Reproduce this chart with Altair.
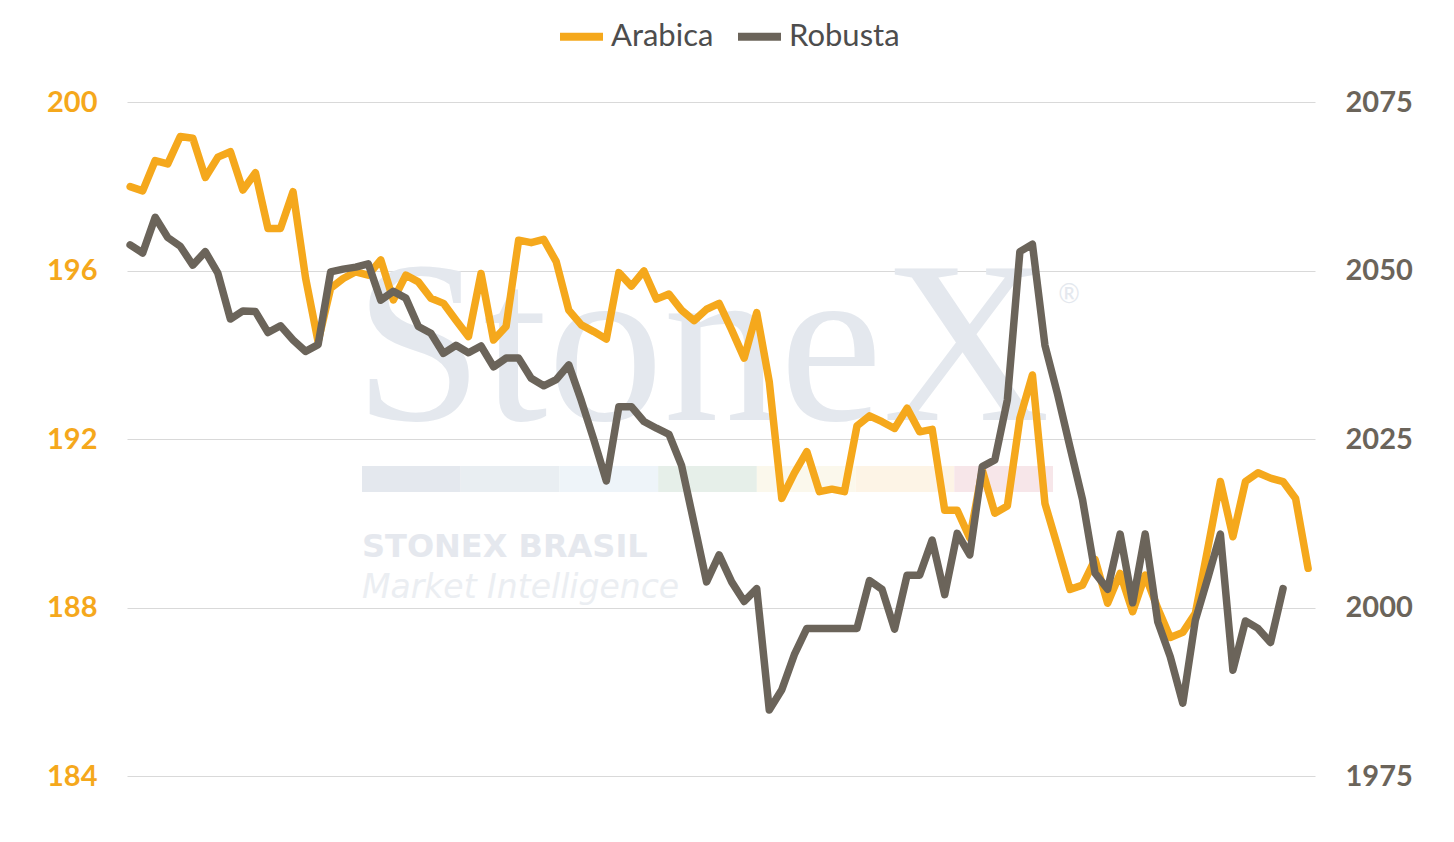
import altair as alt
import pandas as pd

# ---- data ----
arabica = [197.99, 197.89, 198.61, 198.53, 199.18, 199.14, 198.21, 198.69, 198.82, 197.91,
           198.32, 197.00, 197.00, 197.87, 195.82, 194.31, 195.58, 195.81, 195.97, 195.89,
           196.25, 195.30, 195.89, 195.73, 195.34, 195.22, 194.82, 194.43, 195.93, 194.35,
           194.67, 196.72, 196.66, 196.74, 196.21, 195.06, 194.71, 194.55, 194.37, 195.95,
           195.63, 195.99, 195.32, 195.44, 195.06, 194.81, 195.08, 195.22, 194.59, 193.92,
           195.00, 193.36, 190.59, 191.19, 191.70, 190.75, 190.81, 190.75, 192.31, 192.55,
           192.41, 192.25, 192.73, 192.17, 192.23, 190.31, 190.31, 189.65, 191.26, 190.24,
           190.41, 192.49, 193.52, 190.47, 189.46, 188.43, 188.53, 189.14, 188.10, 188.81,
           187.90, 188.77, 187.98, 187.29, 187.41, 187.86, 189.41, 190.99, 189.68, 190.99,
           191.20, 191.07, 190.99, 190.59, 188.93]

robusta = [2053.8, 2052.6, 2057.9, 2054.9, 2053.6, 2050.8, 2052.8, 2049.6, 2042.8, 2044.0,
           2043.9, 2040.8, 2041.8, 2039.7, 2038.0, 2039.0, 2049.8, 2050.2, 2050.5, 2051.0,
           2045.6, 2046.9, 2045.9, 2041.7, 2040.7, 2037.7, 2038.9, 2037.8, 2038.8, 2035.7,
           2037.0, 2037.0, 2034.0, 2032.9, 2033.8, 2036.0, 2030.7, 2024.9, 2018.8, 2029.8,
           2029.8, 2027.6, 2026.6, 2025.7, 2021.1, 2012.5, 2003.8, 2007.8, 2003.8, 2000.9,
           2002.8, 1984.8, 1987.8, 1993.0, 1996.9, 1996.9, 1996.9, 1996.9, 1996.9, 2004.0,
           2002.7, 1996.8, 2004.8, 2004.8, 2010.0, 2001.9, 2011.0, 2007.8, 2020.9, 2021.9,
           2030.8, 2052.8, 2053.9, 2038.9, 2031.7, 2023.8, 2016.0, 2005.1, 2002.7, 2010.9,
           2000.7, 2010.9, 1997.9, 1992.7, 1985.8, 1998.1, 2004.4, 2010.9, 1990.7, 1998.0,
           1996.9, 1994.8, 2002.8]

series_names = ["Arabica", "Robusta"]
series_colors = ["#F5A81C", "#6B645A"]
left_ticks = [184, 188, 192, 196, 200]
right_ticks = [1975, 2000, 2025, 2050, 2075]

rows = [{"idx": i, "series": "Arabica", "value": v} for i, v in enumerate(arabica)]
rows += [{"idx": i, "series": "Robusta", "value": v} for i, v in enumerate(robusta)]
df = pd.DataFrame(rows)

W, H = 1188, 674

x_enc = alt.X("idx:Q", scale=alt.Scale(domain=[-0.25, 94.55], nice=False, zero=False), axis=None)
color_enc = alt.Color(
    "series:N",
    scale=alt.Scale(domain=series_names, range=series_colors),
    legend=alt.Legend(
        title=None, orient="none", direction="horizontal",
        legendX=429, legendY=-91,
        symbolType="stroke", symbolStrokeWidth=8, symbolSize=1849,
        labelFontSize=31, labelFont="Lato", labelColor="#4D4D4D",
        labelOffset=4, columnPadding=8,
    ),
)

base = alt.Chart(df)

arab = base.transform_filter(alt.datum.series == "Arabica").mark_line(
    strokeWidth=7.5, strokeCap="round", strokeJoin="round"
).encode(
    x=x_enc,
    y=alt.Y("value:Q", scale=alt.Scale(domain=[184, 200], nice=False, zero=False),
            axis=alt.Axis(orient="left", values=left_ticks, labelColor="#F5A81C",
                          grid=True, title=None, format="d")),
    color=color_enc,
)

rob = base.transform_filter(alt.datum.series == "Robusta").mark_line(
    strokeWidth=7.5, strokeCap="round", strokeJoin="round"
).encode(
    x=x_enc,
    y=alt.Y("value:Q", scale=alt.Scale(domain=[1975, 2075], nice=False, zero=False),
            axis=alt.Axis(orient="right", values=right_ticks, labelColor="#6B645A",
                          grid=False, title=None, format="d")),
    color=color_enc,
)

# ---- watermark (decoration, behind the lines) ----
one = pd.DataFrame({"k": [0]})
wm_color = "#E4E8EE"
wm = [
    alt.Chart(one).mark_text(text="StoneX", font="Liberation Serif", fontSize=232,
                             align="left", baseline="alphabetic", color=wm_color)
    .encode(x=alt.value(227), y=alt.value(318)),
    alt.Chart(one).mark_text(text="®", font="Lato", fontSize=26,
                             align="center", baseline="middle", color=wm_color)
    .encode(x=alt.value(942), y=alt.value(193)),
    alt.Chart(one).mark_text(text="STONEX BRASIL", font="DejaVu Sans", fontSize=32,
                             fontWeight="bold", align="left", baseline="alphabetic",
                             color="#E5E8EE")
    .encode(x=alt.value(235), y=alt.value(455)),
    alt.Chart(one).mark_text(text="Market Intelligence", font="DejaVu Sans", fontSize=33,
                             fontStyle="italic", align="left",
                             baseline="alphabetic", color="#EBEEF2")
    .encode(x=alt.value(235), y=alt.value(496)),
]
bar_colors = ["#E4E8EE", "#E9EEF2", "#EEF4F9", "#E6EFE9", "#FBF8EC", "#FDF4E6", "#F7E6E9"]
seg = (926 - 235) / len(bar_colors)
for k, c in enumerate(bar_colors):
    wm.append(
        alt.Chart(one).mark_rect(color=c).encode(
            x=alt.value(235 + k * seg), x2=alt.value(235 + (k + 1) * seg),
            y=alt.value(364), y2=alt.value(390))
    )

chart = alt.layer(*wm, arab, rob).resolve_scale(y="independent").properties(
    width=W, height=H,
    padding={"left": 119, "top": 94, "right": 131, "bottom": 50},
    autosize=alt.AutoSizeParams(type="none"),
    background="white",
).configure_view(stroke=None).configure_axis(
    domain=False, ticks=False, gridColor="#D9D9D9", gridWidth=1,
    labelFont="Lato", labelFontWeight="bold", labelFontSize=29, labelPadding=30,
)

chart.save("out.html", embed_options={"renderer": "svg", "actions": False})
